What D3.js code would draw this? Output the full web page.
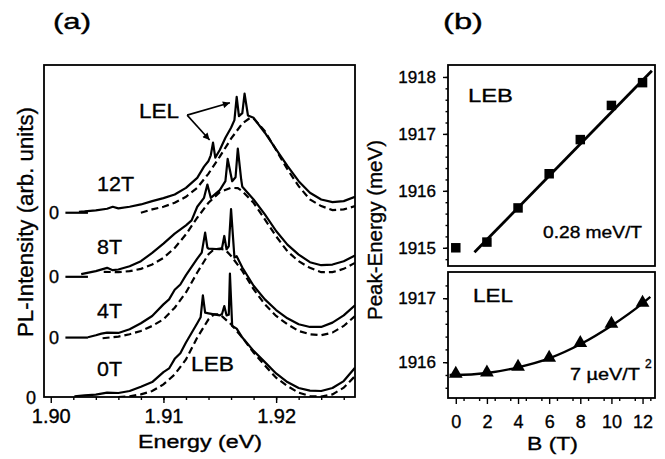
<!DOCTYPE html>
<html>
<head>
<meta charset="utf-8">
<script src="https://cdn.jsdelivr.net/npm/d3@7"></script>
<style>
  body { margin: 0; background: #fff; }
  svg text { font-family: "Liberation Sans", Arial, sans-serif; fill: #000; stroke: #000; stroke-width: 0.35px; }
</style>
</head>
<body>
<div id="chart"></div>
<script>
// Data
// Panel (a): PL spectra, [energy (eV), intensity above own baseline (arb. units)]
var fields = ["0T", "4T", "8T", "12T"];
var offsets = [0, 17.9, 36.2, 55.5];

var solid0T = [[1.9021, 0.2], [1.903, 0.5], [1.904, 0.7], [1.905, 1.3], [1.906, 1.2], [1.907, 1.8],
  [1.908, 3.1], [1.909, 4.5], [1.910, 7.5], [1.9105, 8.6], [1.911, 11.5], [1.9115, 13.2], [1.912, 16.4],
  [1.913, 22.2], [1.9133, 24.0], [1.9135, 30.6], [1.9137, 25.4], [1.914, 25.2], [1.915, 24.6],
  [1.9152, 25.0], [1.9154, 27.4], [1.9156, 24.6], [1.9158, 24.8], [1.9159, 37.2], [1.9161, 21.4],
  [1.9165, 20.6], [1.917, 17.9], [1.918, 13.9], [1.919, 10.5], [1.920, 7.1], [1.921, 4.5], [1.922, 2.7],
  [1.923, 1.9], [1.924, 1.8], [1.925, 2.7], [1.926, 4.8], [1.927, 8.8]];
var dashed0T = [[1.906, 0.0], [1.907, 0.2], [1.908, 0.8], [1.909, 1.8], [1.910, 3.8], [1.911, 6.8],
  [1.912, 11.3], [1.913, 17.9], [1.914, 23.4], [1.9145, 24.9], [1.915, 24.9], [1.916, 21.9],
  [1.917, 17.9], [1.918, 13.4], [1.919, 9.5], [1.920, 5.8], [1.921, 3.3], [1.922, 1.3], [1.923, 0.3],
  [1.924, 0.1], [1.925, 0.8], [1.926, 2.8], [1.927, 6.3]];

var solid4T = [[1.9033, 0.1], [1.904, 0.7], [1.9045, 1.2], [1.905, 1.5], [1.906, 1.4], [1.907, 2.5],
  [1.908, 4.3], [1.909, 6.5], [1.910, 10.0], [1.9105, 11.5], [1.911, 14.4], [1.9115, 16.0], [1.912, 18.8],
  [1.913, 23.8], [1.9134, 25.6], [1.9137, 31.6], [1.9139, 27.1], [1.914, 26.8], [1.915, 26.6],
  [1.9152, 27.0], [1.9154, 30.6], [1.9156, 26.6], [1.9158, 27.5], [1.9160, 38.7], [1.9163, 24.1],
  [1.9165, 24.5], [1.917, 21.1], [1.918, 15.6], [1.919, 11.5], [1.920, 8.3], [1.921, 5.8], [1.922, 4.0],
  [1.923, 3.2], [1.924, 3.2], [1.925, 4.5], [1.926, 6.7], [1.927, 9.7]];
var dashed4T = [[1.9046, -0.2], [1.906, 0.3], [1.907, 1.0], [1.908, 2.0], [1.909, 3.5], [1.910, 5.5],
  [1.911, 9.0], [1.912, 13.6], [1.913, 19.6], [1.914, 25.1], [1.9145, 26.6], [1.915, 26.8],
  [1.9155, 26.4], [1.916, 24.6], [1.917, 20.1], [1.918, 14.6], [1.919, 10.0], [1.920, 6.5], [1.921, 4.0],
  [1.922, 2.0], [1.923, 1.0], [1.924, 0.7], [1.925, 1.5], [1.926, 3.5], [1.927, 6.5]];

var solid8T = [[1.9027, 0.8], [1.904, 1.7], [1.905, 2.7], [1.9055, 2.0], [1.906, 2.2], [1.907, 3.2],
  [1.908, 4.7], [1.909, 7.2], [1.910, 10.0], [1.911, 13.0], [1.912, 15.5], [1.9125, 17.0], [1.913, 21.1],
  [1.9136, 23.8], [1.9139, 27.8], [1.9142, 23.8], [1.915, 26.1], [1.9155, 28.8], [1.9157, 35.5],
  [1.9161, 28.8], [1.9164, 30.0], [1.9166, 38.6], [1.9169, 29.3], [1.917, 27.1], [1.918, 23.3],
  [1.919, 18.8], [1.920, 13.8], [1.921, 9.7], [1.922, 6.7], [1.923, 4.4], [1.924, 3.5], [1.925, 3.7],
  [1.926, 4.7], [1.927, 6.4]];
var dashed8T = [[1.9047, 1.5], [1.906, 1.4], [1.907, 1.7], [1.908, 2.4], [1.909, 3.7], [1.910, 5.7],
  [1.911, 8.7], [1.912, 12.8], [1.913, 17.8], [1.914, 22.3], [1.915, 25.5], [1.916, 26.8],
  [1.9166, 26.7], [1.917, 25.8], [1.918, 22.3], [1.919, 17.3], [1.920, 12.2], [1.921, 7.7], [1.922, 4.7],
  [1.923, 2.7], [1.924, 1.4], [1.925, 1.4], [1.926, 2.4], [1.927, 4.2]];

var solid12T = [[1.9025, 0.3], [1.903, 0.4], [1.904, 0.7], [1.905, 1.2], [1.9055, 1.8], [1.906, 1.3],
  [1.907, 1.8], [1.908, 2.5], [1.909, 3.5], [1.910, 4.4], [1.911, 5.5], [1.912, 7.5], [1.913, 10.5],
  [1.9136, 13.9], [1.914, 15.6], [1.9142, 17.3], [1.9144, 21.1], [1.9146, 16.6], [1.915, 18.9],
  [1.9155, 22.6], [1.916, 25.6], [1.9163, 27.9], [1.9165, 34.9], [1.9167, 29.1], [1.9170, 30.0],
  [1.9172, 35.9], [1.9175, 29.3], [1.918, 28.6], [1.919, 24.1], [1.920, 19.1], [1.921, 14.1],
  [1.922, 9.5], [1.923, 6.0], [1.924, 4.0], [1.925, 3.2], [1.926, 3.5], [1.927, 4.8]];
var dashed12T = [[1.908, 0.0], [1.909, 1.0], [1.910, 1.8], [1.911, 3.0], [1.912, 4.8], [1.913, 7.5],
  [1.914, 11.8], [1.915, 16.9], [1.916, 22.3], [1.917, 26.9], [1.9177, 28.6], [1.918, 28.4],
  [1.919, 24.6], [1.920, 18.9], [1.921, 13.1], [1.922, 8.0], [1.923, 4.0], [1.924, 2.0], [1.925, 0.8],
  [1.926, 1.0], [1.927, 2.0]];

var solidSpectra = [solid0T, solid4T, solid8T, solid12T];
var dashedSpectra = [dashed0T, dashed4T, dashed8T, dashed12T];

// baseline marks "0 —" for the shifted spectra
var baseMarkE = [1.9013, 1.9033];

// LEL arrows: start and two tips, [energy, intensity]
var arrowStart = [1.9121, 84.9];
var arrowTips = [[1.9159, 88.6], [1.9141, 77.4]];

var energyRange = [1.8994, 1.9270];
var intensityRange = [0, 100];
var energyTicks = [1.90, 1.91, 1.92];

// Panel (b): peak energies vs field
var fieldB = [0, 2, 4, 6, 8, 10, 12];
var lebPeak = [1915.0, 1915.1, 1915.7, 1916.3, 1916.9, 1917.5, 1917.9];
var lelPeak = [1915.82, 1915.84, 1915.93, 1916.07, 1916.30, 1916.60, 1916.93];
var lebFitB = [1.2, 12.6];
var lebFitE = [1914.92, 1918.11];
var lelFitB = [-0.4, 0, 2, 4, 6, 8, 10, 12, 12.5];
var lelFitE = [1915.80, 1915.80, 1915.83, 1915.92, 1916.06, 1916.28, 1916.57, 1916.92, 1917.02];

var fieldRange = [-0.5, 12.8];
var lebRange = [1914.68, 1918.21];
var lelRange = [1915.44, 1917.41];
var fieldTicks = [0, 2, 4, 6, 8, 10, 12];
var lebTicks = [1915, 1916, 1917, 1918];
var lelTicks = [1916, 1917];

// Step 1: chart setup
var svgWidth = 665;
var svgHeight = 459;

var panelA = {left: 44, right: 355, top: 65, bottom: 397};
var panelB = {left: 448, right: 655, top: 65, split1: 266, split2: 272, bottom: 398};

var svg = d3.select("#chart")
  .append("svg")
  .attr("width", svgWidth)
  .attr("height", svgHeight);

svg.append("rect").attr("width", svgWidth).attr("height", svgHeight).attr("fill", "#fff");

var defs = svg.append("defs");
defs.append("marker")
  .attr("id", "arrow")
  .attr("viewBox", "0 0 10 10")
  .attr("refX", 10)
  .attr("refY", 5)
  .attr("markerWidth", 9)
  .attr("markerHeight", 7)
  .attr("markerUnits", "userSpaceOnUse")
  .attr("orient", "auto")
  .append("path")
  .attr("d", "M0,0L10,5L0,10z")
  .attr("fill", "#000");

defs.append("clipPath").attr("id", "clipA")
  .append("rect")
  .attr("x", panelA.left).attr("y", panelA.top)
  .attr("width", panelA.right - panelA.left).attr("height", panelA.bottom - panelA.top);

function label(g, x, y, str, size, len, anchor) {
  var t = g.append("text")
    .attr("x", x)
    .attr("y", y)
    .attr("font-size", size + "px")
    .attr("text-anchor", anchor || "start")
    .text(str);
  if (len) t.attr("textLength", len).attr("lengthAdjust", "spacingAndGlyphs");
  return t;
}

function styleAxis(g, size) {
  g.select(".domain").remove();
  g.selectAll(".tick line").attr("stroke", "#000").attr("stroke-width", 1.4);
  g.selectAll(".tick text").attr("font-size", size + "px").attr("fill", "#000")
    .attr("font-family", "'Liberation Sans', Arial, sans-serif");
}

// Step 2: panel (a)
var xA = d3.scaleLinear().domain(energyRange).range([panelA.left, panelA.right]);
var yA = d3.scaleLinear().domain(intensityRange).range([panelA.bottom, panelA.top]);

var axisA = svg.append("g")
  .attr("transform", `translate(0, ${panelA.bottom})`)
  .call(d3.axisBottom(xA).tickValues(energyTicks).tickFormat(d3.format(".2f")).tickSize(6).tickPadding(6));
styleAxis(axisA, 20);

var minorA = svg.append("g")
  .attr("transform", `translate(0, ${panelA.bottom})`)
  .call(d3.axisBottom(xA).tickValues(d3.range(1.902, 1.9265, 0.002)).tickFormat("").tickSize(3));
styleAxis(minorA, 10);

var specGroup = svg.append("g").attr("clip-path", "url(#clipA)");

fields.forEach(function(f, i) {
  var off = offsets[i];
  var line = d3.line()
    .x(d => xA(d[0]))
    .y(d => yA(d[1] + off));

  specGroup.append("path")
    .datum(dashedSpectra[i])
    .attr("d", line)
    .attr("fill", "none")
    .attr("stroke", "#000")
    .attr("stroke-width", 2.2)
    .attr("stroke-dasharray", "7,4");

  specGroup.append("path")
    .datum(solidSpectra[i])
    .attr("d", line)
    .attr("fill", "none")
    .attr("stroke", "#000")
    .attr("stroke-width", 2.2)
    .attr("stroke-linejoin", "round");

  if (i > 0) {
    specGroup.append("line")
      .attr("x1", xA(baseMarkE[0])).attr("x2", xA(baseMarkE[1]))
      .attr("y1", yA(off)).attr("y2", yA(off))
      .attr("stroke", "#000").attr("stroke-width", 2.2);
    label(svg, 54, yA(off) + 6.5, "0", 18, null, "middle");
  }
});

// zero label of the bottom spectrum
label(svg, 31, yA(offsets[0]) + 6.5, "0", 18, null, "middle");

// frame
svg.append("rect")
  .attr("x", panelA.left).attr("y", panelA.top)
  .attr("width", panelA.right - panelA.left).attr("height", panelA.bottom - panelA.top)
  .attr("fill", "none").attr("stroke", "#000").attr("stroke-width", 1.8);

// LEL arrows
arrowTips.forEach(function(tip) {
  svg.append("line")
    .attr("x1", xA(arrowStart[0])).attr("y1", yA(arrowStart[1]))
    .attr("x2", xA(tip[0])).attr("y2", yA(tip[1]))
    .attr("stroke", "#000").attr("stroke-width", 1.6)
    .attr("marker-end", "url(#arrow)");
});

// panel (a) texts
label(svg, 53, 29, "(a)", 22, 38);
label(svg, 139, 118, "LEL", 21, 40);
label(svg, 97, 191, "12T", 21, 37);
label(svg, 97, 254, "8T", 21, 25);
label(svg, 97, 318, "4T", 21, 25);
label(svg, 97, 376, "0T", 21, 25);
label(svg, 191, 371, "LEB", 21, 43);
label(svg, 138, 448, "Energy (eV)", 18, 124);
label(svg, 0, 0, "PL-Intensity (arb. units)", 22, 230, "middle")
  .attr("transform", "translate(33, 222) rotate(-90)");

// Step 3: panel (b)
var xB = d3.scaleLinear().domain(fieldRange).range([panelB.left, panelB.right]);
var yTop = d3.scaleLinear().domain(lebRange).range([panelB.split1, panelB.top]);
var yBot = d3.scaleLinear().domain(lelRange).range([panelB.bottom, panelB.split2]);

var axisB = svg.append("g")
  .attr("transform", `translate(0, ${panelB.bottom})`)
  .call(d3.axisBottom(xB).tickValues(fieldTicks).tickSize(6).tickPadding(11));
styleAxis(axisB, 18);
var minorB = svg.append("g")
  .attr("transform", `translate(0, ${panelB.bottom})`)
  .call(d3.axisBottom(xB).tickValues(d3.range(0.5, 12.6, 1)).tickFormat("").tickSize(3));
styleAxis(minorB, 10);

var axisTop = svg.append("g")
  .attr("transform", `translate(${panelB.left}, 0)`)
  .call(d3.axisLeft(yTop).tickValues(lebTicks).tickFormat(d3.format("d")).tickSize(5).tickPadding(7));
styleAxis(axisTop, 17);
var minorTop = svg.append("g")
  .attr("transform", `translate(${panelB.left}, 0)`)
  .call(d3.axisLeft(yTop).tickValues(d3.range(1914.8, 1918.15, 0.2)).tickFormat("").tickSize(2.5));
styleAxis(minorTop, 10);

var axisBot = svg.append("g")
  .attr("transform", `translate(${panelB.left}, 0)`)
  .call(d3.axisLeft(yBot).tickValues(lelTicks).tickFormat(d3.format("d")).tickSize(5).tickPadding(7));
styleAxis(axisBot, 17);
var minorBot = svg.append("g")
  .attr("transform", `translate(${panelB.left}, 0)`)
  .call(d3.axisLeft(yBot).tickValues(d3.range(1915.6, 1917.35, 0.2)).tickFormat("").tickSize(2.5));
styleAxis(minorBot, 10);

// LEB fit and points
svg.append("path")
  .datum(lebFitB.map((b, i) => [b, lebFitE[i]]))
  .attr("d", d3.line().x(d => xB(d[0])).y(d => yTop(d[1])))
  .attr("fill", "none").attr("stroke", "#000").attr("stroke-width", 2.8);

svg.selectAll(".leb")
  .data(fieldB.map((b, i) => [b, lebPeak[i]]))
  .enter()
  .append("path")
  .attr("class", "leb")
  .attr("d", d3.symbol().type(d3.symbolSquare).size(90))
  .attr("transform", d => `translate(${xB(d[0])}, ${yTop(d[1])})`)
  .attr("fill", "#000");

// LEL fit and points
svg.append("path")
  .datum(lelFitB.map((b, i) => [b, lelFitE[i]]))
  .attr("d", d3.line().curve(d3.curveMonotoneX).x(d => xB(d[0])).y(d => yBot(d[1])))
  .attr("fill", "none").attr("stroke", "#000").attr("stroke-width", 2.4);

svg.selectAll(".lel")
  .data(fieldB.map((b, i) => [b, lelPeak[i]]))
  .enter()
  .append("path")
  .attr("class", "lel")
  .attr("d", d3.symbol().type(d3.symbolTriangle).size(82))
  .attr("transform", d => `translate(${xB(d[0])}, ${yBot(d[1])})`)
  .attr("fill", "#000");

// frames
svg.append("rect")
  .attr("x", panelB.left).attr("y", panelB.top)
  .attr("width", panelB.right - panelB.left).attr("height", panelB.split1 - panelB.top)
  .attr("fill", "none").attr("stroke", "#000").attr("stroke-width", 1.8);
svg.append("rect")
  .attr("x", panelB.left).attr("y", panelB.split2)
  .attr("width", panelB.right - panelB.left).attr("height", panelB.bottom - panelB.split2)
  .attr("fill", "none").attr("stroke", "#000").attr("stroke-width", 1.8);

// panel (b) texts
label(svg, 443, 29, "(b)", 22, 40);
label(svg, 468, 102, "LEB", 19, 45);
label(svg, 543, 238, "0.28 meV/T", 16, 99);
label(svg, 473, 302, "LEL", 19, 40);
label(svg, 570, 380, "7 \u00b5eV/T", 16, 70);
label(svg, 645, 368, "2", 12);
label(svg, 527, 450, "B (T)", 18.5, 51);
label(svg, 0, 0, "Peak-Energy (meV)", 20, 180, "middle")
  .attr("transform", "translate(382, 230) rotate(-90)");
</script>
</body>
</html>
